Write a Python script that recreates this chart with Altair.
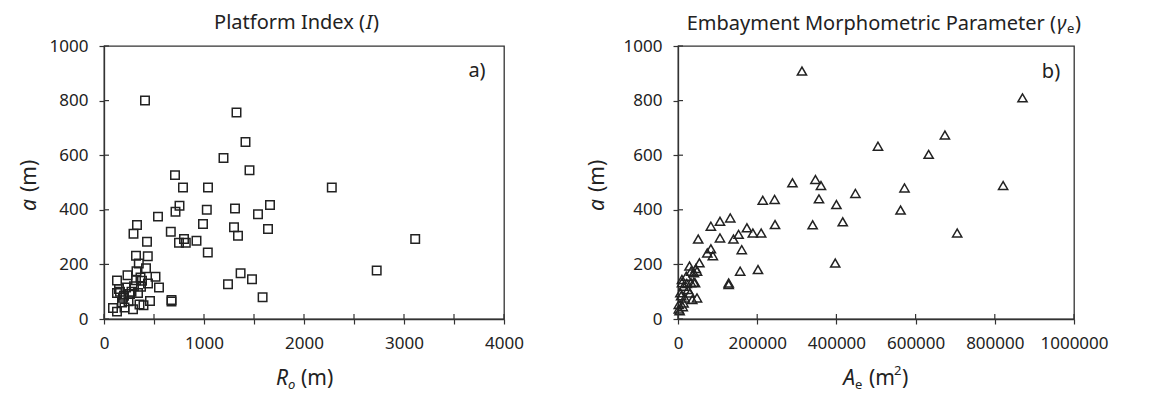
import altair as alt
import pandas as pd

# ---------------- data: panel a) Platform Index ----------------
ro_m = [410, 1325, 1415, 1195, 1455, 710, 790, 1040, 2278, 755, 1660, 715, 1028, 1310,
        1540, 540, 990, 330, 295, 668, 1300, 1640, 1340, 800, 750, 818, 925, 3112, 430,
        1038, 320, 438, 348, 420, 2727, 1366, 1480, 1240, 1586, 675, 675, 460,
        130, 235, 325, 515, 550, 320, 365, 440, 370, 130, 150, 190, 275, 340, 355, 90,
        130, 205, 290, 200, 260, 300, 180, 245, 395, 160, 220, 380]
a_left = [800, 756, 648, 590, 545, 527, 482, 482, 482, 415, 418, 393, 400, 405,
          384, 375, 348, 344, 312, 320, 336, 330, 305, 293, 279, 279, 287, 293, 283,
          244, 232, 230, 203, 186, 178, 168, 146, 127, 80, 70, 64, 66,
          141, 160, 175, 155, 115, 142, 152, 130, 118, 95, 110, 78, 100, 95, 53, 40,
          27, 42, 36, 85, 92, 120, 60, 65, 50, 100, 115, 140]

# ---------------- data: panel b) Embayment Morphometric Parameter ----------------
ae_m2 = [313000, 870000, 674000, 505000, 633000, 289000, 347000, 361000, 572000, 821000,
         448000, 214000, 244000, 356000, 400000, 562000, 132000, 106000, 83000, 416000,
         340000, 245000, 174000, 705000, 51000, 106000, 140000, 153000, 189000, 210000,
         161000, 74000, 83000, 88000, 397000, 202000, 157000, 128000, 128000,
         10000, 21000, 33000, 29000, 54000, 40000, 48000, 14000, 33000, 43000, 6000,
         25000, 17000, 36000, 48000, 2000, 2000, 14000, 10000, 22000, 4000, 8000,
         45000, 40000, 30000, 12000]
a_right = [908, 810, 674, 633, 603, 499, 511, 489, 480, 489,
           460, 435, 438, 440, 419, 399, 370, 358, 340, 356,
           345, 346, 334, 315, 293, 297, 293, 310, 315, 315,
           254, 242, 257, 232, 205, 181, 175, 132, 126,
           145, 157, 175, 194, 206, 169, 175, 120, 133, 133, 96,
           108, 77, 71, 77, 53, 37, 59, 133, 130, 30, 85,
           185, 135, 95, 45]

x_ticks_a = [0, 500, 1000, 1500, 2000, 2500, 3000, 3500, 4000]
x_ticks_b = [0, 200000, 400000, 600000, 800000, 1000000]
y_ticks = [0, 200, 400, 600, 800, 1000]

FONT = "Noto Sans"
INK = "#222222"
LINE = "#333333"
W_A, W_B, H = 400, 396, 273


def txt(text, x, y, size=18, italic=False, align="center", angle=None, baseline="middle"):
    kw = dict(text=text, fontSize=size, font=FONT, align=align, baseline=baseline, color=INK)
    if italic:
        kw["fontStyle"] = "italic"
    if angle is not None:
        kw["angle"] = angle
    return alt.Chart(pd.DataFrame({"k": [0]})).mark_text(**kw).encode(
        x=alt.value(x), y=alt.value(y))


def y_axis():
    return alt.Axis(values=y_ticks, format="d", title=None, labelPadding=11)


def inner_ticks(xvals, field):
    xt = alt.Chart(pd.DataFrame({field: xvals})).mark_rule(color=LINE, strokeWidth=1.2).encode(
        x=alt.X(f"{field}:Q"), y=alt.value(H), y2=alt.value(H - 5))
    yt = alt.Chart(pd.DataFrame({"a": y_ticks})).mark_rule(color=LINE, strokeWidth=1.2).encode(
        y=alt.Y("a:Q"), x=alt.value(0), x2=alt.value(5))
    return xt, yt


df_a = pd.DataFrame({"ro": ro_m, "a": a_left})
df_b = pd.DataFrame({"ae": ae_m2, "a": a_right})

pts_a = alt.Chart(df_a).mark_point(shape="square", filled=False, color=INK,
                                   strokeWidth=1.5, size=72, opacity=1).encode(
    x=alt.X("ro:Q", scale=alt.Scale(domain=[0, 4000], nice=False),
            axis=alt.Axis(values=x_ticks_a, title=None, labelPadding=11, labelOverlap=False,
                          labelFlush=False,
                          labelExpr="datum.value % 1000 == 0 ? format(datum.value, 'd') : ''")),
    y=alt.Y("a:Q", scale=alt.Scale(domain=[0, 1000], nice=False), axis=y_axis()),
)
xt_a, yt_a = inner_ticks(x_ticks_a, "ro")

panel_a = alt.layer(
    pts_a, xt_a, yt_a,
    # title: Platform Index (I)
    txt("Platform Index (", 261, -23, size=20, align="right"),
    txt("I", 262, -23, size=20, italic=True, align="left"),
    txt(")", 269, -23, size=20, align="left"),
    # y title: a (m)
    txt("a", -74, 153, size=21, italic=True, align="right", angle=270),
    txt("(m)", -74, 146, size=21, align="left", angle=270),
    # x title: Ro (m)
    txt("R", 184, 333, size=21, italic=True, align="right"),
    txt("o", 184, 339, size=13, italic=True, align="left"),
    txt("(m)", 197, 333, size=21, align="left"),
    # panel label
    txt("a)", 373, 25, size=20),
).properties(width=W_A, height=H)

pts_b = alt.Chart(df_b).mark_point(shape="triangle-up", filled=False, color=INK,
                                   strokeWidth=1.5, size=85, opacity=1).encode(
    x=alt.X("ae:Q", scale=alt.Scale(domain=[0, 1000000], nice=False),
            axis=alt.Axis(values=x_ticks_b, format="d", title=None, labelPadding=11,
                          labelOverlap=False, labelFlush=False)),
    y=alt.Y("a:Q", scale=alt.Scale(domain=[0, 1000], nice=False), axis=y_axis()),
)
xt_b, yt_b = inner_ticks(x_ticks_b, "ae")

panel_b = alt.layer(
    pts_b, xt_b, yt_b,
    # title: Embayment Morphometric Parameter (γe)
    txt("Embayment Morphometric Parameter  (", 378, -22, size=20, align="right"),
    txt("γ", 379, -22, size=20, italic=True, align="left"),
    txt("e", 389, -17, size=13, align="left"),
    txt(")", 397, -22, size=20, align="left"),
    # y title
    txt("a", -80, 153, size=21, italic=True, align="right", angle=270),
    txt("(m)", -80, 146, size=21, align="left", angle=270),
    # x title: Ae (m2)
    txt("A", 177, 333, size=21, italic=True, align="right"),
    txt("e", 177, 339, size=13, align="left"),
    txt("(m", 191, 333, size=21, align="left"),
    txt("2", 216, 325, size=13, align="left"),
    txt(")", 224, 333, size=21, align="left"),
    # panel label
    txt("b)", 373, 26, size=20),
).properties(width=W_B, height=H)

chart = alt.hconcat(panel_a, panel_b, spacing=61).properties(
    padding={"left": 10, "top": 4, "right": 5, "bottom": 5},
    background="white",
).configure_view(
    stroke=LINE, strokeWidth=1.3
).configure_axis(
    grid=False, domainColor=LINE, domainWidth=1.3, tickColor=LINE,
    tickSize=5, tickWidth=1.2, labelFont=FONT, labelFontSize=17, labelColor=INK,
)

chart.save("out.html", embed_options={"renderer": "svg", "actions": False})
